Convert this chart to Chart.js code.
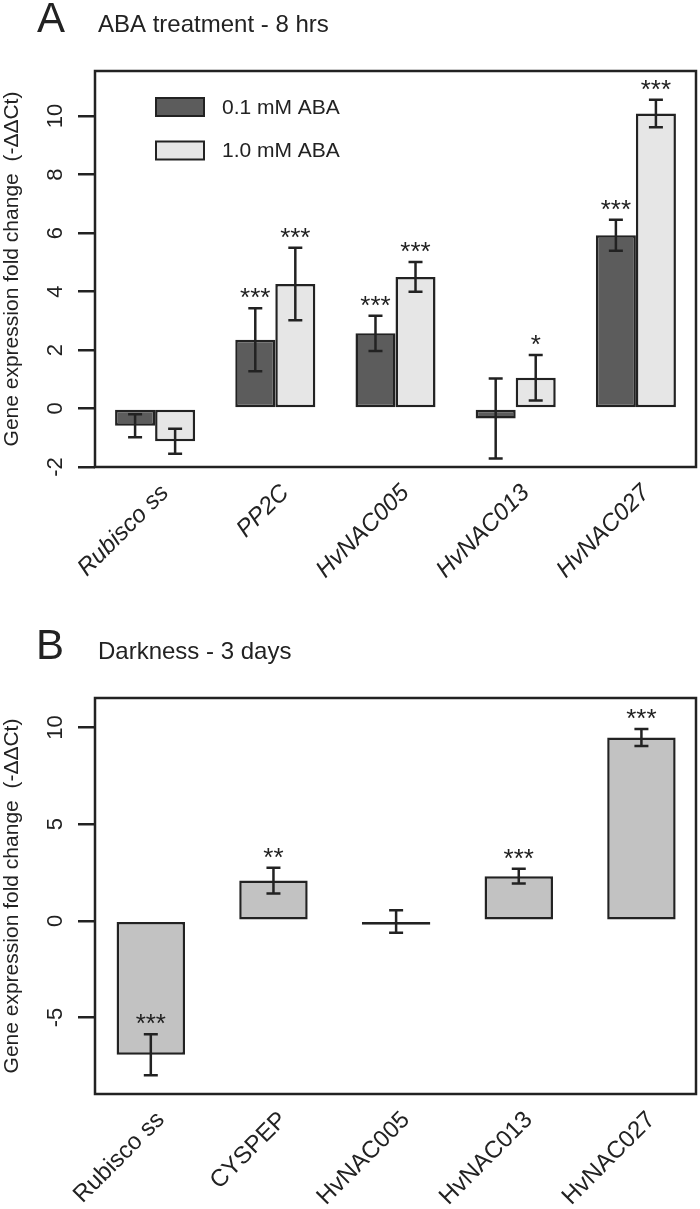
<!DOCTYPE html>
<html>
<head>
<meta charset="utf-8">
<script src="https://cdn.jsdelivr.net/npm/chart.js@4.4.1/dist/chart.umd.min.js"></script>
<style>
  body { margin: 0; background: #fff; }
  canvas { display: block; }
</style>
</head>
<body>
<canvas id="chartA" width="700" height="600"></canvas>
<canvas id="chartB" width="700" height="609"></canvas>
<script>
// panel A - ABA treatment, two doses
const genesA = ['Rubisco ss', 'PP2C', 'HvNAC005', 'HvNAC013', 'HvNAC027']
const lowDose = [-0.59, 2.35, 2.57, -0.34, 5.92]
const lowDoseErr = [0.39, 1.08, 0.60, 1.37, 0.53]
const lowDoseStars = ['', '***', '***', '', '***']
const highDose = [-1.12, 4.26, 4.50, 1.05, 10.09]
const highDoseErr = [0.43, 1.24, 0.51, 0.78, 0.47]
const highDoseStars = ['', '***', '***', '*', '***']
const ticksA = [-2, 0, 2, 4, 6, 8, 10]

// panel B - darkness
const genesB = ['Rubisco ss', 'CYSPEP', 'HvNAC005', 'HvNAC013', 'HvNAC027']
const darkness = [-6.92, 2.08, -0.03, 2.31, 9.48]
const darknessErr = [1.06, 0.66, 0.58, 0.38, 0.44]
const darknessStars = ['***', '**', '', '***', '***']
const ticksB = [-5, 0, 5, 10]

const ink = '#222'
const family = '"Liberation Sans", Arial, Helvetica, sans-serif'
const yTitle = 'Gene expression fold change  (-\u0394\u0394Ct)'

// box, error bars, stars, panel titles, legend
const extras = {
    id: 'extras',
    afterDatasetsDraw(chart) {
        const ctx = chart.ctx
        const y = chart.scales.y
        ctx.save()
        ctx.strokeStyle = ink
        ctx.fillStyle = ink
        ctx.lineWidth = 2.5
        ctx.font = '26px ' + family
        ctx.textAlign = 'center'
        ctx.textBaseline = 'alphabetic'
        chart.data.datasets.forEach((ds, i) => {
            const meta = chart.getDatasetMeta(i)
            meta.data.forEach((bar, j) => {
                const v = meta.controller.getParsed(j).y
                const hi = y.getPixelForValue(v + ds.errors[j])
                const lo = y.getPixelForValue(v - ds.errors[j])
                ctx.beginPath()
                ctx.moveTo(bar.x, hi); ctx.lineTo(bar.x, lo)
                ctx.moveTo(bar.x - 7, hi); ctx.lineTo(bar.x + 7, hi)
                ctx.moveTo(bar.x - 7, lo); ctx.lineTo(bar.x + 7, lo)
                ctx.stroke()
                if (ds.stars[j]) ctx.fillText(ds.stars[j], bar.x, hi - 2)
            })
        })
        ctx.restore()
    },
    afterDraw(chart, args, opts) {
        const ctx = chart.ctx
        const a = chart.chartArea
        ctx.save()
        ctx.strokeStyle = ink
        ctx.lineWidth = 2.5
        ctx.strokeRect(a.left, a.top, a.right - a.left, a.bottom - a.top)

        ctx.fillStyle = ink
        ctx.textBaseline = 'alphabetic'
        ctx.textAlign = 'left'
        ctx.font = '42px ' + family
        ctx.fillText(opts.letter, opts.letterX, opts.baseline)
        ctx.font = '24px ' + family
        ctx.fillText(opts.title, 98, opts.baseline)

        if (opts.legend) {
            ctx.font = '21px ' + family
            ctx.textBaseline = 'middle'
            chart.data.datasets.forEach((ds, i) => {
                const bx = a.left + 61
                const by = a.top + 27 + i * 43.5
                ctx.fillStyle = ds.backgroundColor
                ctx.fillRect(bx, by, 48, 18)
                ctx.lineWidth = 2
                ctx.strokeRect(bx, by, 48, 18)
                ctx.fillStyle = ink
                ctx.fillText(ds.label, bx + 66, by + 10)
            })
        }
        ctx.restore()
    }
}

function yScale(min, max, ticks, fitWidth) {
    return {
        min: min,
        max: max,
        afterBuildTicks: s => { s.ticks = ticks.map(v => ({ value: v })) },
        afterFit: s => { s.width = fitWidth; s.paddingTop = 0; s.paddingBottom = 0 },
        grid: { drawOnChartArea: false, drawTicks: true, tickLength: 17, color: ink, lineWidth: 2.5 },
        border: { display: false },
        ticks: {
            minRotation: 90, maxRotation: 90, crossAlign: 'center', padding: 10,
            color: ink, font: { family: family, size: 22 },
            callback: v => String(v)
        },
        title: { display: true, text: yTitle, color: ink, padding: 0, font: { family: family, size: 21 } }
    }
}

function xTicks(italic) {
    return {
        autoSkip: false, minRotation: 45, maxRotation: 45, padding: 12, labelOffset: 10,
        color: ink, font: { family: family, size: 24, style: italic ? 'italic' : 'normal' }
    }
}

new Chart(document.getElementById('chartA'), {
    type: 'bar',
    data: {
        labels: genesA,
        datasets: [{
            label: '0.1 mM ABA',
            data: lowDose,
            errors: lowDoseErr,
            stars: lowDoseStars,
            backgroundColor: '#5c5c5c'
        }, {
            label: '1.0 mM ABA',
            data: highDose,
            errors: highDoseErr,
            stars: highDoseStars,
            backgroundColor: '#e6e6e6'
        }]
    },
    options: {
        responsive: false,
        animation: false,
        layout: { padding: { top: 71, right: 4, left: 0, bottom: 0 } },
        datasets: {
            bar: {
                categoryPercentage: 0.666, barPercentage: 1,
                borderColor: ink, borderWidth: 2.5, borderSkipped: false
            }
        },
        plugins: {
            legend: { display: false },
            tooltip: { enabled: false },
            extras: { letter: 'A', letterX: 37, title: 'ABA treatment - 8 hrs', baseline: 32, legend: true }
        },
        scales: {
            x: {
                afterFit: s => { s.height = 133; s.paddingLeft = 0; s.paddingRight = 0 },
                grid: { display: false, drawTicks: false },
                border: { display: false },
                ticks: xTicks(true)
            },
            y: yScale(-2, 11.54, ticksA, 95)
        }
    },
    plugins: [extras]
})

new Chart(document.getElementById('chartB'), {
    type: 'bar',
    data: {
        datasets: [{
            label: 'Darkness',
            data: darkness.map((v, i) => ({ x: i, y: v })),
            errors: darknessErr,
            stars: darknessStars,
            backgroundColor: '#c2c2c2'
        }]
    },
    options: {
        responsive: false,
        animation: false,
        layout: { padding: { top: 98, right: 4, left: 0, bottom: 0 } },
        datasets: {
            bar: {
                categoryPercentage: 1, barPercentage: 0.558, minBarLength: 4,
                borderColor: ink, borderWidth: 2.5, borderSkipped: false
            }
        },
        plugins: {
            legend: { display: false },
            tooltip: { enabled: false },
            extras: { letter: 'B', letterX: 36, title: 'Darkness - 3 days', baseline: 59, legend: false }
        },
        scales: {
            x: {
                type: 'linear',
                min: -0.455,
                max: 4.445,
                offset: false,
                afterBuildTicks: s => { s.ticks = genesB.map((g, i) => ({ value: i })) },
                afterFit: s => { s.height = 115; s.paddingLeft = 0; s.paddingRight = 0 },
                grid: { display: false, drawTicks: false },
                border: { display: false },
                ticks: Object.assign(xTicks(false), { callback: v => genesB[v] })
            },
            y: yScale(-8.95, 11.52, ticksB, 95)
        }
    },
    plugins: [extras]
})
</script>
</body>
</html>
